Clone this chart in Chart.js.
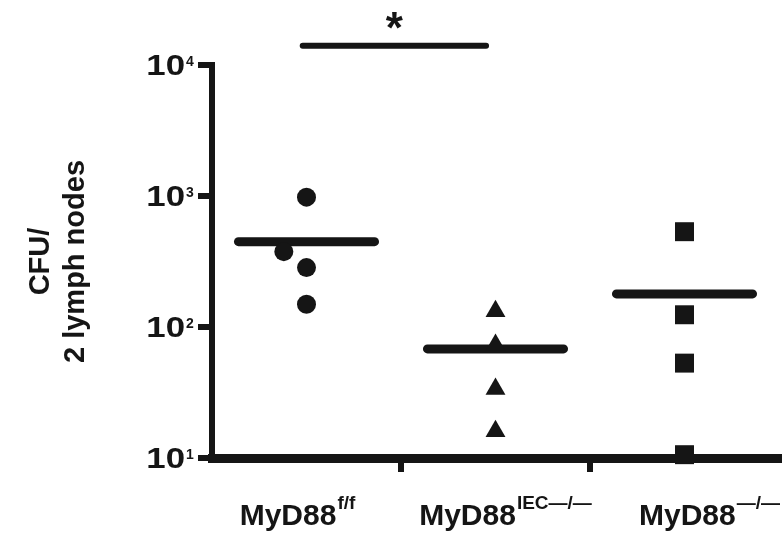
<!DOCTYPE html>
<html>
<head>
<meta charset="utf-8">
<script src="https://cdn.jsdelivr.net/npm/chart.js@4/dist/chart.umd.min.js"></script>
<style>
  html, body { margin: 0; padding: 0; background: #fff; }
</style>
</head>
<body>
<canvas id="cfu-canvas" width="783" height="549"></canvas>
<script>
// groups along the x axis (base name + superscript genotype)
const groups   = ['MyD88', 'MyD88', 'MyD88'];
const groupSup = ['f/f', 'IEC\u2014/\u2014', '\u2014/\u2014'];

// CFU / 2 lymph nodes (x = group index, small jitter on one dot)
const floxX   = [0, -0.12, 0, 0];
const floxCfu = [980, 376, 284, 149];
const iecX    = [1, 1, 1, 1];
const iecCfu  = [132, 73, 33.6, 16];
const koX     = [2, 2, 2, 2];
const koCfu   = [534, 124, 53, 10.6];
const groupMeans = [448, 68, 179];

// log axis ticks: 10^1 .. 10^4
const yTicks   = [10, 100, 1000, 10000];
const yTickExp = ['1', '2', '3', '4'];

// significance bar between first two groups
const sigFrom = -0.02, sigTo = 0.95, sigLevel = 14000;
const sigText = '*';

const ink = '#151515';
const fontFam = '"Liberation Sans", Arial, Helvetica, sans-serif';
const meanHalfWidth = 0.36;
const labelNudge = [-9, 10, 25];

function pts(xs, ys) {
    return ys.map((y, i) => ({ x: xs[i], y: y }));
}

const datasets = [
    { data: pts(floxX, floxCfu), pointStyle: 'circle',   pointRadius: 9.5,  backgroundColor: ink, borderWidth: 0, clip: false },
    { data: pts(iecX, iecCfu),   pointStyle: 'triangle', pointRadius: 11.5, backgroundColor: ink, borderWidth: 0, clip: false },
    { data: pts(koX, koCfu),     pointStyle: 'rect',     pointRadius: 13.4, backgroundColor: ink, borderWidth: 0, clip: false }
];

// mean bars
groupMeans.forEach(function (m, i) {
    datasets.push({
        type: 'line',
        data: [{ x: i - meanHalfWidth, y: m }, { x: i + meanHalfWidth, y: m }],
        borderColor: ink, borderWidth: 9, borderCapStyle: 'round',
        pointRadius: 0, clip: false
    });
});

// significance bar
datasets.push({
    type: 'line',
    data: [{ x: sigFrom, y: sigLevel }, { x: sigTo, y: sigLevel }],
    borderColor: ink, borderWidth: 6, borderCapStyle: 'round',
    pointRadius: 0, clip: false
});

// tick labels with superscripts + asterisk
const labelPlugin = {
    id: 'labelPlugin',
    afterDraw: (chart) => {
        const c = chart.ctx;
        const xs = chart.scales.x;
        const ys = chart.scales.y;
        c.save();
        c.fillStyle = ink;
        c.textBaseline = 'alphabetic';

        yTicks.forEach(function (v, i) {
            const py = ys.getPixelForValue(v);
            // the "10" in the figure is set a little wide
            c.save();
            c.translate(ys.right - 27, py + 10);
            c.scale(1.2, 1);
            c.font = 'bold 29px ' + fontFam;
            c.textAlign = 'right';
            c.fillText('10', 0, 0);
            c.restore();
            c.font = 'bold 14px ' + fontFam;
            c.textAlign = 'left';
            c.fillText(yTickExp[i], ys.right - 26, py + 1);
        });

        groups.forEach(function (g, i) {
            const baseFont = 'bold 30px ' + fontFam;
            const supFont = 'bold 19px ' + fontFam;
            c.font = baseFont;
            const wb = c.measureText(g).width;
            c.font = supFont;
            const ws = c.measureText(groupSup[i]).width;
            const x0 = xs.getPixelForValue(i) + labelNudge[i] - (wb + ws + 1) / 2;
            c.textAlign = 'left';
            c.font = baseFont;
            c.fillText(g, x0, 525);
            c.font = supFont;
            c.fillText(groupSup[i], x0 + wb + 1, 509);
        });

        const sx = xs.getPixelForValue((sigFrom + sigTo) / 2);
        const sy = ys.getPixelForValue(sigLevel);
        c.font = 'bold 44px ' + fontFam;
        c.textAlign = 'center';
        c.fillText(sigText, sx, sy - 3);
        c.restore();
    }
};

const chart = new Chart(document.getElementById('cfu-canvas').getContext('2d'), {
    type: 'scatter',
    data: { datasets: datasets },
    options: {
        responsive: false,
        animation: false,
        layout: { autoPadding: false, padding: { top: 65, right: 4, bottom: 0, left: 0 } },
        plugins: { legend: { display: false }, tooltip: { enabled: false } },
        scales: {
            x: {
                type: 'linear', min: -0.5, max: 2.5,
                afterBuildTicks: (s) => { s.ticks = [0.5, 1.5].map(v => ({ value: v })); },
                afterFit: (s) => { s.height = 91; },
                ticks: { display: false },
                grid: { drawOnChartArea: false, color: ink, lineWidth: 6, tickLength: 14, tickWidth: 6 },
                border: { color: ink, width: 9 }
            },
            y: {
                type: 'logarithmic', min: 10, max: 10000,
                afterBuildTicks: (s) => { s.ticks = yTicks.map(v => ({ value: v })); },
                afterFit: (s) => { s.width = 212; },
                ticks: { display: false },
                grid: { drawOnChartArea: false, color: ink, lineWidth: 6, tickLength: 14, tickWidth: 6 },
                border: { color: ink, width: 6 },
                title: {
                    display: true,
                    text: ['CFU/', '2 lymph nodes'],
                    color: ink,
                    font: { family: fontFam, size: 29, weight: 'bold', lineHeight: 1.2 },
                    padding: { top: 24, bottom: 0 }
                }
            }
        }
    },
    plugins: [labelPlugin]
});
</script>
</body>
</html>
